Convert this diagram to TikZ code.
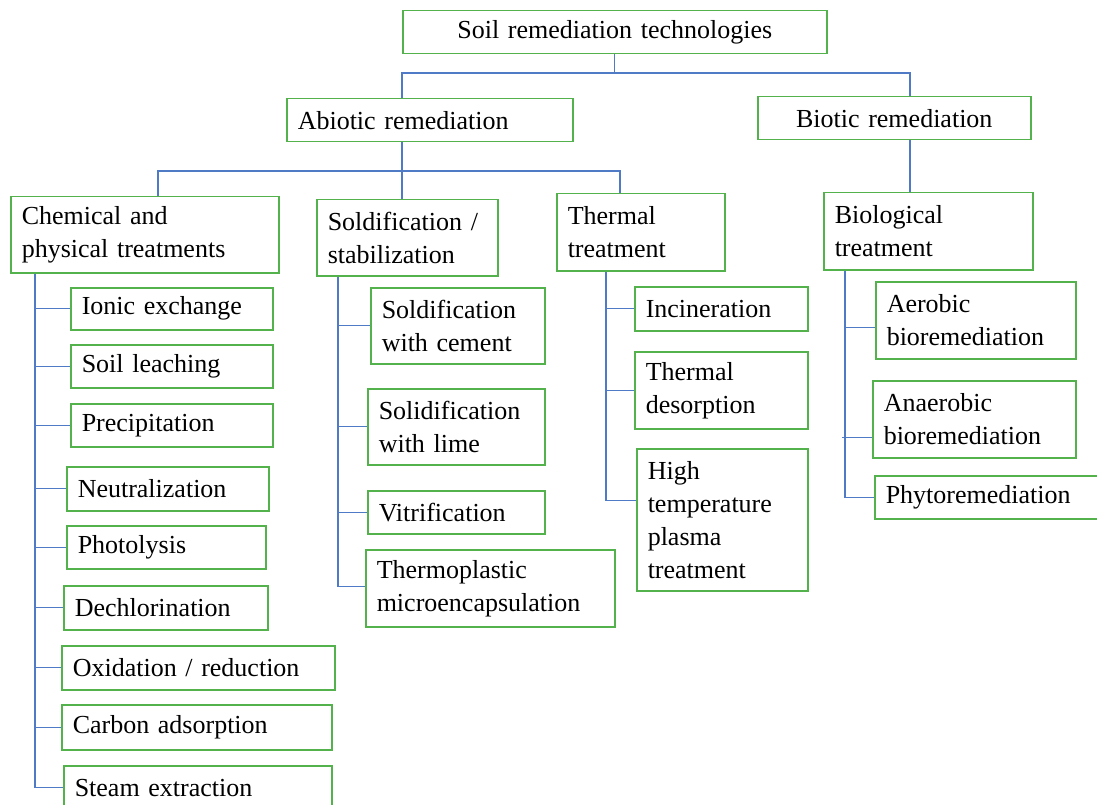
\documentclass[tikz,border=0pt]{standalone}
\usepackage{fontspec}
\setmainfont{Liberation Serif}
\definecolor{boxgreen}{RGB}{84,178,76}
\definecolor{linkblue}{RGB}{79,122,198}
\tikzset{
  bx/.style 2 args={draw=boxgreen, line width=1.5pt, inner xsep=11pt, inner ysep=0pt,
    anchor=north west, align=left, text width=#1pt, minimum height=#2pt,
    font=\fontsize{26pt}{33pt}\selectfont, text=black},
  bxc/.style 2 args={bx={#1}{#2}, align=center},
  conn/.style={draw=linkblue, line width=1.2pt}
}
\begin{document}
\begin{tikzpicture}[x=1pt,y=-1pt]
\useasboundingbox (0,0) rectangle (1097,805);
% level 0-2
\node[bxc={402}{43}] (root) at (402,10) {Soil remediation technologies};
\node[bx={264}{43}] (abiotic) at (286,98) {Abiotic remediation};
\node[bxc={251}{43}] (biotic) at (757,96) {Biotic remediation};
\node[bx={246}{76}] (chem) at (10,196) {Chemical and\\physical treatments};
\node[bx={159}{76}] (soldif) at (316,199) {Soldification /\\stabilization};
\node[bx={146}{77}] (thermal) at (556,193) {Thermal\\treatment};
\node[bx={187}{77}] (bio) at (823,192) {Biological\\treatment};
% chemical children
\node[bx={180}{42}] (ionic) at (70,287) {Ionic exchange};
\node[bx={180}{43}] (leach) at (70,344) {Soil leaching};
\node[bx={180}{43}] (precip) at (70,403) {Precipitation};
\node[bx={180}{44}] (neutral) at (66,466) {Neutralization};
\node[bx={177}{43}] (photo) at (66,525) {Photolysis};
\node[bx={182}{44}] (dechl) at (63,585) {Dechlorination};
\node[bx={251}{44}] (oxid) at (61,645) {Oxidation / reduction};
\node[bx={248}{45}] (carbon) at (61,704) {Carbon adsorption};
\node[bx={246}{44}] (steam) at (63,765) {Steam extraction};
% solidification children
\node[bx={152}{76}] (cement) at (370,287) {Soldification\\with cement};
\node[bx={155}{76}] (lime) at (367,388) {Solidification\\with lime};
\node[bx={155}{43}] (vitr) at (367,490) {Vitrification};
\node[bx={227}{77}] (thermo) at (365,549) {Thermoplastic\\microencapsulation};
% thermal children
\node[bx={151}{44}] (incin) at (634,286) {Incineration};
\node[bx={151}{77}] (desorp) at (634,351) {Thermal\\desorption};
\node[bx={149}{142}] (plasma) at (636,448) {High\\temperature\\plasma\\treatment};
% biological children
\node[bx={178}{77}] (aerobic) at (875,281) {Aerobic\\bioremediation};
\node[bx={181}{77}] (anaerobic) at (872,380) {Anaerobic\\bioremediation};
\node[bx={204}{43}] (phyto) at (874,475) {Phytoremediation};
% top bus
\coordinate (bA) at (402,73);
\coordinate (bB) at (910,73);
\draw[conn] (root.south) -- (root.south |- bA);
\draw[conn] (bA |- abiotic.north) -- (bA) -- (bB) -- (bB |- biotic.north);
% abiotic bus
\coordinate (cA) at (158,171);
\coordinate (cB) at (620,171);
\draw[conn] (bA |- abiotic.south) -- (bA |- soldif.north);
\draw[conn] (cA |- chem.north) -- (cA) -- (cB) -- (cB |- thermal.north);
% biotic
\draw[conn] (bB |- biotic.south) -- (bB |- bio.north);
% trunks
\coordinate (t1) at (35,272);
\draw[conn] (t1 |- chem.south) |- (steam.west);
\foreach \n in {ionic,leach,precip,neutral,photo,dechl,oxid,carbon}
  \draw[conn] (t1 |- \n.west) -- (\n.west);
\coordinate (t2) at (338,275);
\draw[conn] (t2 |- soldif.south) |- ([yshift=2pt]thermo.west);
\foreach \n in {cement,lime,vitr}
  \draw[conn] (t2 |- \n.west) -- (\n.west);
\coordinate (t3) at (606,270);
\draw[conn] (t3 |- thermal.south) |- ([yshift=19pt]plasma.west);
\foreach \n in {incin,desorp}
  \draw[conn] (t3 |- \n.west) -- (\n.west);
\coordinate (t4) at (845,269);
\draw[conn] (t4 |- bio.south) |- (phyto.west);
\draw[conn] (t4 |- aerobic.west) ++(0,7) -- ([yshift=-7pt]aerobic.west);
\draw[conn] (t4 |- anaerobic.west) ++(-3,18) -- ([yshift=-18pt]anaerobic.west);
\end{tikzpicture}
\end{document}
